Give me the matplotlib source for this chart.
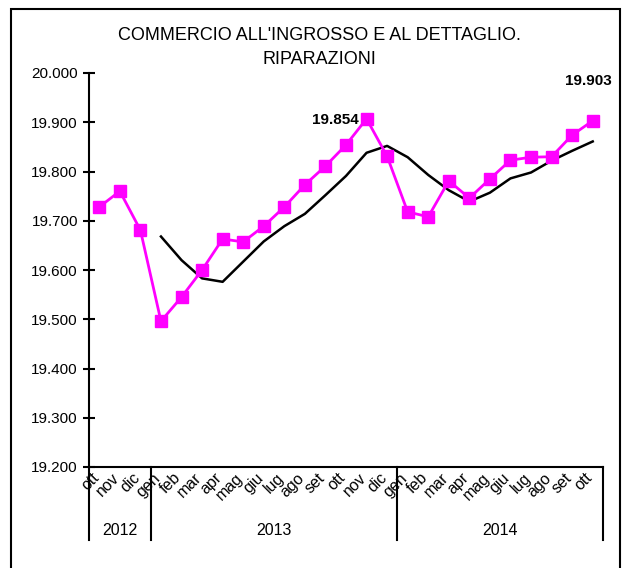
import numpy as np
import matplotlib.pyplot as plt
import matplotlib.transforms as mtransforms
from matplotlib.patches import Rectangle
from matplotlib.ticker import FormatStrFormatter

plt.rcParams['font.family'] = ['Liberation Sans', 'DejaVu Sans']

# mesi (ott 2012 - ott 2014)
mesi = ['ott', 'nov', 'dic',
        'gen', 'feb', 'mar', 'apr', 'mag', 'giu', 'lug', 'ago', 'set', 'ott', 'nov', 'dic',
        'gen', 'feb', 'mar', 'apr', 'mag', 'giu', 'lug', 'ago', 'set', 'ott']
anni = ['2012', '2013', '2014']
mesi_per_anno = [3, 12, 10]

# serie mensile
valori = [19.728, 19.760, 19.681,
          19.496, 19.545, 19.600, 19.663, 19.657, 19.689, 19.728, 19.773, 19.811, 19.854, 19.907, 19.831,
          19.718, 19.708, 19.781, 19.746, 19.785, 19.823, 19.829, 19.830, 19.874, 19.903]
# media mobile (da gen 2013)
media = [np.nan, np.nan, np.nan,
         19.668, 19.620, 19.583, 19.576, 19.617, 19.658, 19.689, 19.714, 19.752, 19.791, 19.838, 19.852,
         19.829, 19.793, 19.762, 19.739, 19.757, 19.786, 19.798, 19.822, 19.842, 19.861]

etichette = {12: '19.854', 24: '19.903'}

fig = plt.figure(figsize=(6.24, 5.68), dpi=100)
ax = fig.add_axes([89/624, 101/568, 514/624, 394/568])

x = np.arange(len(mesi))
ax.plot(x, valori, color='#FF00FF', lw=2.0, marker='s', markersize=8.5, zorder=3)
ax.plot(x, media, color='black', lw=1.8, zorder=2)

# etichette dati
ax.annotate(etichette[12], (12, valori[12]), xytext=(-11, 25), textcoords='offset pixels',
            ha='center', va='center', fontsize=11, fontweight='bold')
ax.annotate(etichette[24], (24, valori[24]), xytext=(-4, 40), textcoords='offset pixels',
            ha='center', va='center', fontsize=11, fontweight='bold')

ax.set_xlim(-0.5, len(mesi) - 0.5)
ax.set_ylim(19.2, 20.0)
ax.set_yticks(np.arange(19.2, 20.001, 0.1))
ax.yaxis.set_major_formatter(FormatStrFormatter('%.3f'))
ax.tick_params(axis='y', direction='inout', length=8, width=1.5, labelsize=11, pad=4)
ax.set_xticks([])
for s in ['top', 'right']:
    ax.spines[s].set_visible(False)
for s in ['left', 'bottom']:
    ax.spines[s].set_linewidth(1.5)

# asse categorie a due livelli
tr = mtransforms.blended_transform_factory(ax.transData, ax.transAxes)
for i, m in enumerate(mesi):
    ax.text(i + 0.12, -0.008, m, transform=tr, rotation=45, ha='right', va='top', fontsize=11.5)
bordi = np.concatenate([[0], np.cumsum(mesi_per_anno)]) - 0.5
for b in bordi:
    ax.plot([b, b], [0, -0.185], transform=tr, color='black', lw=1.5, clip_on=False)
for k, a in enumerate(anni):
    c = (bordi[k] + bordi[k + 1]) / 2
    ax.text(c, -0.16, a, transform=tr, ha='center', va='center', fontsize=11.5)

fig.text(319.5/624, 1 - 35/568, "COMMERCIO ALL'INGROSSO E AL DETTAGLIO.",
         ha='center', va='center', fontsize=13)
fig.text(319.5/624, 1 - 59/568, "RIPARAZIONI", ha='center', va='center', fontsize=13)

# cornice
fig.patches.append(Rectangle((11/624, -0.05), 609/624, 1.05 - 9/568, transform=fig.transFigure,
                             fill=False, edgecolor='black', lw=1.5))

fig.savefig('out.png', dpi=100)
